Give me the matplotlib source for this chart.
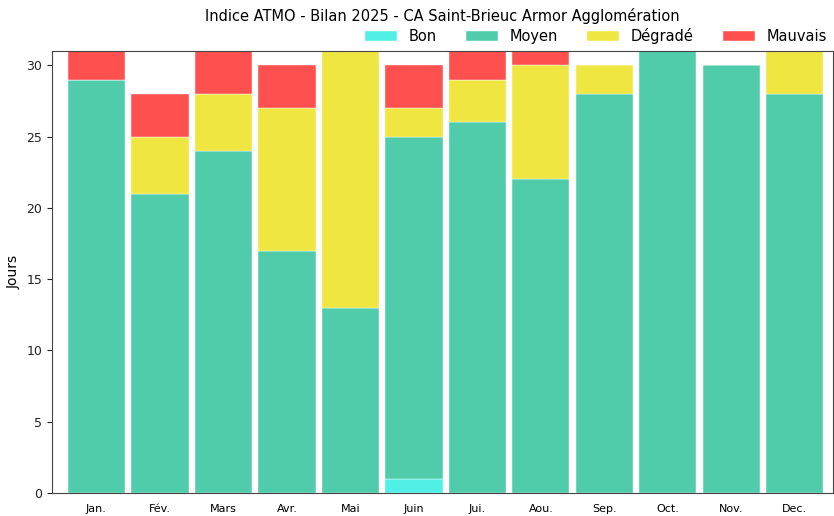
import numpy as np
import matplotlib
matplotlib.use('Agg')
from matplotlib import pyplot as plt

mois = ['Jan.', 'Fév.', 'Mars', 'Avr.', 'Mai', 'Juin',
        'Jui.', 'Aou.', 'Sep.', 'Oct.', 'Nov.', 'Dec.']
bon = [0, 0, 0, 0, 0, 1, 0, 0, 0, 0, 0, 0]
moyen = [29, 21, 24, 17, 13, 24, 26, 22, 28, 31, 30, 28]
degrade = [0, 4, 4, 10, 18, 2, 3, 8, 2, 0, 0, 3]
mauvais = [2, 3, 3, 3, 0, 3, 2, 1, 0, 0, 0, 0]

series = [('Bon', bon, '#50F0E6'),
          ('Moyen', moyen, '#50CCAA'),
          ('Dégradé', degrade, '#F0E641'),
          ('Mauvais', mauvais, '#FF5050')]

fig = plt.figure(figsize=(8.34, 5.16), dpi=100)
ax = fig.add_axes([52 / 834, 1 - 493 / 516, (833 - 52) / 834, (493 - 51) / 516])

x = np.arange(len(mois))
bottom = np.zeros(len(mois))
for name, vals, col in series:
    vals = np.array(vals, dtype=float)
    ax.bar(x, vals, 0.9, bottom=bottom, color=col, label=name,
           edgecolor='white', linewidth=0.3)
    bottom += vals

ax.set_xlim(-0.7, 11.6)
ax.set_ylim(0, 31)
ax.set_xticks(x)
ax.set_xticklabels(mois, fontsize=8)
ax.tick_params(axis='x', length=0, pad=8)
ax.tick_params(axis='y', labelsize=9, colors='#222222')
ax.set_ylabel('Jours', fontsize=10)
for s in ax.spines.values():
    s.set_color('#444444')

fig.text(442 / 834, 1 - 16 / 516, 'Indice ATMO - Bilan 2025 - CA Saint-Brieuc Armor Agglomération',
         ha='center', va='center', fontsize=10.5)
ax.legend(ncol=4, frameon=False, loc='lower right', bbox_to_anchor=(1.0, 1.003),
          fontsize=10.5, handlelength=2.2, columnspacing=2.0, borderaxespad=0,
          handletextpad=0.8)

plt.savefig('out.png', dpi=100)
